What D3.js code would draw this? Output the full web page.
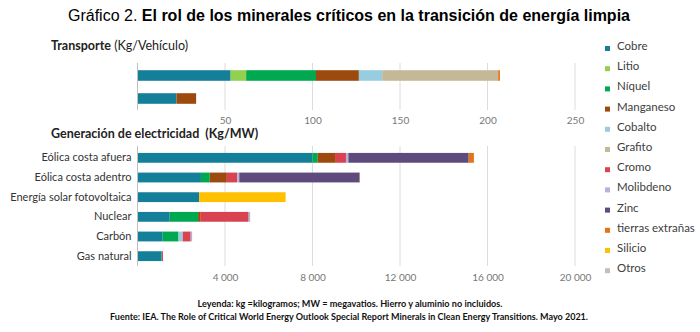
<!DOCTYPE html>
<html>
<head>
<meta charset="utf-8">
<script src="https://cdn.jsdelivr.net/npm/d3@7"></script>
<style>
  body { margin: 0; background: #fff; }
  svg text { font-family: Lato, "Open Sans", sans-serif; }
</style>
</head>
<body>
<script>
// minerals, stacking order and colours
const minerales = ["Cobre", "Litio", "Níquel", "Manganeso", "Cobalto", "Grafito", "Cromo",
                   "Molibdeno", "Zinc", "tierras extrañas", "Silicio", "Otros"];
const colores = ["#137f99", "#92d050", "#00a84f", "#9c4a0e", "#98cde0", "#c4b996", "#d8434f",
                 "#b6b2dc", "#5f4a7d", "#e4721b", "#ffc000", "#c0c0c0"];

// transport (kg per vehicle): electric car, conventional car
const transporteCat = ["eléctrico", "convencional"];
const transporteVal = {
  "Cobre":            [53.2, 22.3],
  "Litio":            [8.9, 0],
  "Níquel":           [39.9, 0],
  "Manganeso":        [24.5, 11.2],
  "Cobalto":          [13.3, 0],
  "Grafito":          [66.3, 0],
  "tierras extrañas": [1, 0]
};
const transporteTicks = [50, 100, 150, 200, 250];

// power generation (kg per MW)
const electricidadCat = ["Eólica costa afuera", "Eólica costa adentro", "Energía solar fotovoltaica",
                         "Nuclear", "Carbón", "Gas natural"];
const cobre     = [8000, 2900, 2822, 1473, 1150, 1100];
const niquel    = [240, 404, 0, 1297, 721, 16];
const manganeso = [790, 780, 0, 120, 5, 0];
const cobalto   = [0, 0, 0, 0, 195, 0];
const cromo     = [500, 470, 0, 2190, 360, 48];
const molibdeno = [109, 99, 0, 70, 66, 0];
const zinc      = [5500, 5500, 0, 0, 0, 0];
const tierras   = [239, 14, 0, 0, 0, 0];
const silicio   = [0, 0, 3948, 0, 0, 0];
const electricidadTicks = [4000, 8000, 12000, 16000, 20000];

const W = 700, H = 332;
const svg = d3.select("body").append("svg").attr("width", W).attr("height", H);

// title
const title = svg.append("text")
  .attr("x", 68).attr("y", 21)
  .style("font-family", "'Liberation Sans', Arial, sans-serif")
  .style("font-size", "16px")
  .attr("fill", "#000");
title.append("tspan").text("Gráfico 2. ");
title.append("tspan").attr("font-weight", "bold")
  .text("El rol de los minerales críticos en la transición de energía limpia");

const fmt = v => d3.format(",")(v).replace(/,/g, " ");

function stackRows(cats, series) {
  // series: object mineral -> values per category
  let rows = cats.map((c, i) => {
    let row = {cat: c};
    minerales.forEach(m => { row[m] = series[m] ? series[m][i] : 0; });
    return row;
  });
  return d3.stack().keys(minerales)(rows);
}

function drawPanel(opt) {
  let x = d3.scaleLinear().domain(opt.domain).range([137.5, 575]);
  let y = d3.scaleBand().domain(opt.cats).range(opt.yRange)
    .paddingInner(opt.padIn).paddingOuter(opt.padOut);

  let g = svg.append("g");

  // gridlines
  g.selectAll(".grid").data(opt.ticks).enter().append("line")
    .attr("x1", d => x(d)).attr("x2", d => x(d))
    .attr("y1", opt.gridTop).attr("y2", opt.yRange[1])
    .attr("stroke", "#dcdcdc").attr("stroke-width", 1);

  // bars
  let layers = stackRows(opt.cats, opt.series);
  g.selectAll(".layer").data(layers).enter().append("g")
    .attr("fill", (d, i) => colores[i])
    .selectAll("rect").data(d => d).enter().append("rect")
    .attr("x", d => x(d[0]))
    .attr("y", d => y(d.data.cat))
    .attr("width", d => Math.max(0, x(d[1]) - x(d[0])))
    .attr("height", y.bandwidth());

  // vertical axis line
  g.append("line")
    .attr("x1", 137.5).attr("x2", 137.5)
    .attr("y1", opt.gridTop).attr("y2", opt.yRange[1])
    .attr("stroke", "#bfbfbf");

  // category labels
  if (opt.showCats) {
    let ax = g.append("g").attr("transform", "translate(137.5,0)")
      .call(d3.axisLeft(y).tickSize(0).tickPadding(6));
    ax.select(".domain").remove();
    ax.selectAll("text")
      .style("font-family", "Lato, sans-serif")
      .style("font-size", "11px")
      .attr("fill", "#333");
  }

  // value ticks
  let xa = g.append("g").attr("transform", "translate(0," + opt.tickY + ")")
    .call(d3.axisBottom(x).tickValues(opt.ticks).tickSize(0).tickFormat(fmt));
  xa.select(".domain").remove();
  xa.selectAll("text")
    .style("font-family", "Lato, sans-serif")
    .style("font-size", "10px")
    .attr("fill", "#777");
}

// panel headers
const t1 = svg.append("text").attr("x", 51).attr("y", 49.5)
  .style("font-size", "12.5px").attr("fill", "#222");
t1.append("tspan").attr("font-weight", "bold").text("Transporte");
t1.append("tspan").text(" (Kg/Vehículo)");

svg.append("text").attr("x", 51).attr("y", 137.5)
  .style("font-size", "12.5px").style("white-space", "pre")
  .attr("font-weight", "bold").attr("fill", "#222")
  .text("Generación de electricidad  (Kg/MW)");

drawPanel({
  cats: transporteCat,
  series: transporteVal,
  domain: [0, 250],
  ticks: transporteTicks,
  yRange: [64, 110],
  padIn: 0.54, padOut: 0.27,
  gridTop: 63,
  tickY: 114,
  showCats: false
});

drawPanel({
  cats: electricidadCat,
  series: {
    "Cobre": cobre, "Níquel": niquel, "Manganeso": manganeso, "Cobalto": cobalto,
    "Cromo": cromo, "Molibdeno": molibdeno, "Zinc": zinc,
    "tierras extrañas": tierras, "Silicio": silicio
  },
  domain: [0, 20000],
  ticks: electricidadTicks,
  yRange: [148, 266],
  padIn: 0.5, padOut: 0.25,
  gridTop: 146,
  tickY: 271,
  showCats: true
});

// legend
const leg = svg.append("g").selectAll("g").data(minerales).enter().append("g")
  .attr("transform", (d, i) => "translate(605," + (46 + i * 20.2) + ")");
leg.append("rect").attr("x", 0).attr("y", 0).attr("width", 5).attr("height", 5)
  .attr("fill", (d, i) => colores[i]);
leg.append("text").attr("x", 12).attr("y", 0).attr("dy", "0.35em")
  .style("font-size", "11.5px").attr("fill", "#404040").text(d => d);

// notes
svg.append("text").attr("x", 350).attr("y", 306.5).attr("text-anchor", "middle")
  .style("font-size", "9.5px").attr("font-weight", "bold").attr("fill", "#111")
  .attr("textLength", 305).attr("lengthAdjust", "spacingAndGlyphs")
  .text("Leyenda: kg =kilogramos; MW = megavatios. Hierro y aluminio no incluidos.");
svg.append("text").attr("x", 349).attr("y", 319.5).attr("text-anchor", "middle")
  .style("font-size", "9.5px").attr("font-weight", "bold").attr("fill", "#111")
  .attr("textLength", 478).attr("lengthAdjust", "spacingAndGlyphs")
  .text("Fuente: IEA. The Role of Critical World Energy Outlook Special Report Minerals in Clean Energy Transitions. Mayo 2021.");
</script>
</body>
</html>
